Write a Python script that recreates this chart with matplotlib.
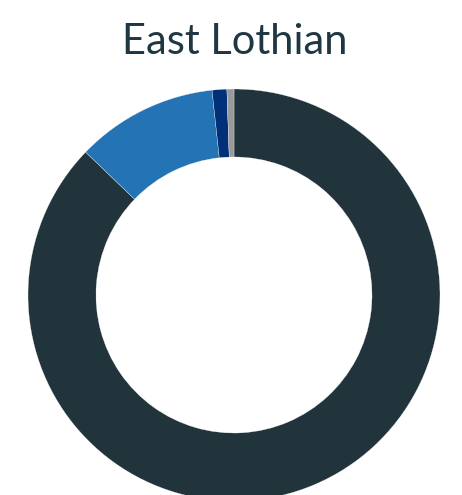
import matplotlib
matplotlib.use("Agg")
import matplotlib.pyplot as plt

title = "East Lothian"
labels = ["Dark", "Blue", "Navy", "Grey"]
values = [87.2, 11.1, 1.15, 0.55]
colors = ["#21333b", "#2474b5", "#003078", "#9a9a9a"]

fig = plt.figure(figsize=(4.62, 4.95), dpi=100)
ax = fig.add_axes([28 / 462, -6 / 495, 412 / 462, 412 / 495])
ax.pie(values, colors=colors, startangle=90, counterclock=False, radius=1,
       wedgeprops=dict(width=0.33, edgecolor="white", linewidth=0.2))
ax.set_xlim(-1, 1)
ax.set_ylim(-1, 1)
ax.set_aspect("equal")
ax.axis("off")

fig.text(235 / 462, 1 - 54 / 495, title, ha="center", va="baseline",
         fontsize=30, color="#1f3744", family="Lato")

fig.savefig("out.png", dpi=100)
